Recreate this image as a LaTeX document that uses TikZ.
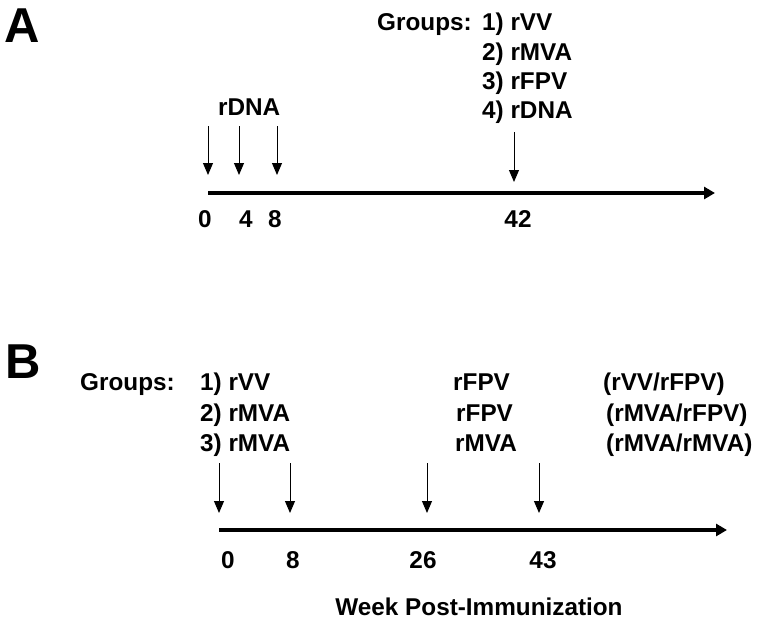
\documentclass[tikz,border=0pt]{standalone}
\usepackage{fontspec}
\setmainfont{Liberation Sans}
\usetikzlibrary{arrows.meta}
\begin{document}
\begin{tikzpicture}[x=1pt,y=1pt,
  txt/.style={inner sep=0pt,font=\fontsize{24.3}{29}\selectfont\bfseries},
  big/.style={inner sep=0pt,font=\fontsize{49}{56}\selectfont\bfseries},
  dose/.style={line width=1pt,-{Triangle[length=12pt,width=10pt]}},
  axis/.style={line width=4pt,-{Triangle[length=11pt,width=12pt]}}]
\useasboundingbox (0,0) rectangle (763,-621);
% Panel A
\node[big,anchor=base west] (lA) at (4,-42) {A};
\node[txt,anchor=base west] (gA) at (377,-30) {Groups:};
\node[txt,anchor=base west] (gA1) at (482,-30) {1) rVV};
\node[txt,anchor=base west] (gA2) at (482,-60) {2) rMVA};
\node[txt,anchor=base west] (gA3) at (482,-89) {3) rFPV};
\node[txt,anchor=base west] (gA4) at (482,-118) {4) rDNA};
\node[txt,anchor=base west] (dA) at (218,-115) {rDNA};
\coordinate (a0t) at (208,-126); \coordinate (a0b) at (208,-175);
\coordinate (a4t) at (239,-126); \coordinate (a4b) at (239,-175);
\coordinate (a8t) at (277,-126); \coordinate (a8b) at (277,-175);
\coordinate (a42t) at (514,-132); \coordinate (a42b) at (514,-182);
\draw[dose] (a0t) -- (a0b);
\draw[dose] (a4t) -- (a4b);
\draw[dose] (a8t) -- (a8b);
\draw[dose] (a42t) -- (a42b);
\coordinate (axAs) at (208,-193); \coordinate (axAe) at (715,-193);
\draw[axis] (axAs) -- (axAe);
\node[txt,anchor=base] (tA0) at (205,-227) {0};
\node[txt,anchor=base] (tA4) at (246,-227) {4};
\node[txt,anchor=base] (tA8) at (275,-227) {8};
\node[txt,anchor=base] (tA42) at (518,-227) {42};
% Panel B
\node[big,anchor=base west] (lB) at (5,-378) {B};
\node[txt,anchor=base west] (gB) at (80,-390) {Groups:};
\node[txt,anchor=base west] (gB1) at (200,-390) {1) rVV};
\node[txt,anchor=base west] (gB2) at (200,-421) {2) rMVA};
\node[txt,anchor=base west] (gB3) at (200,-451) {3) rMVA};
\node[txt,anchor=base west] (bB1) at (453,-390) {rFPV};
\node[txt,anchor=base west] (bB2) at (456,-421) {rFPV};
\node[txt,anchor=base west] (bB3) at (455,-451) {rMVA};
\node[txt,anchor=base west] (cB1) at (603,-390) {(rVV/rFPV)};
\node[txt,anchor=base west] (cB2) at (606,-421) {(rMVA/rFPV)};
\node[txt,anchor=base west] (cB3) at (606,-451) {(rMVA/rMVA)};
\coordinate (b0t) at (219,-463); \coordinate (b0b) at (219,-513);
\coordinate (b8t) at (290,-463); \coordinate (b8b) at (290,-513);
\coordinate (b26t) at (427,-463); \coordinate (b26b) at (427,-513);
\coordinate (b43t) at (539,-463); \coordinate (b43b) at (539,-513);
\draw[dose] (b0t) -- (b0b);
\draw[dose] (b8t) -- (b8b);
\draw[dose] (b26t) -- (b26b);
\draw[dose] (b43t) -- (b43b);
\coordinate (axBs) at (219,-530); \coordinate (axBe) at (727,-530);
\draw[axis] (axBs) -- (axBe);
\node[txt,anchor=base] (tB0) at (228,-568) {0};
\node[txt,anchor=base] (tB8) at (293,-568) {8};
\node[txt,anchor=base] (tB26) at (423,-568) {26};
\node[txt,anchor=base] (tB43) at (543,-568) {43};
\node[txt,anchor=base] (wk) at (479,-615) {Week Post-Immunization};
\end{tikzpicture}
\end{document}
